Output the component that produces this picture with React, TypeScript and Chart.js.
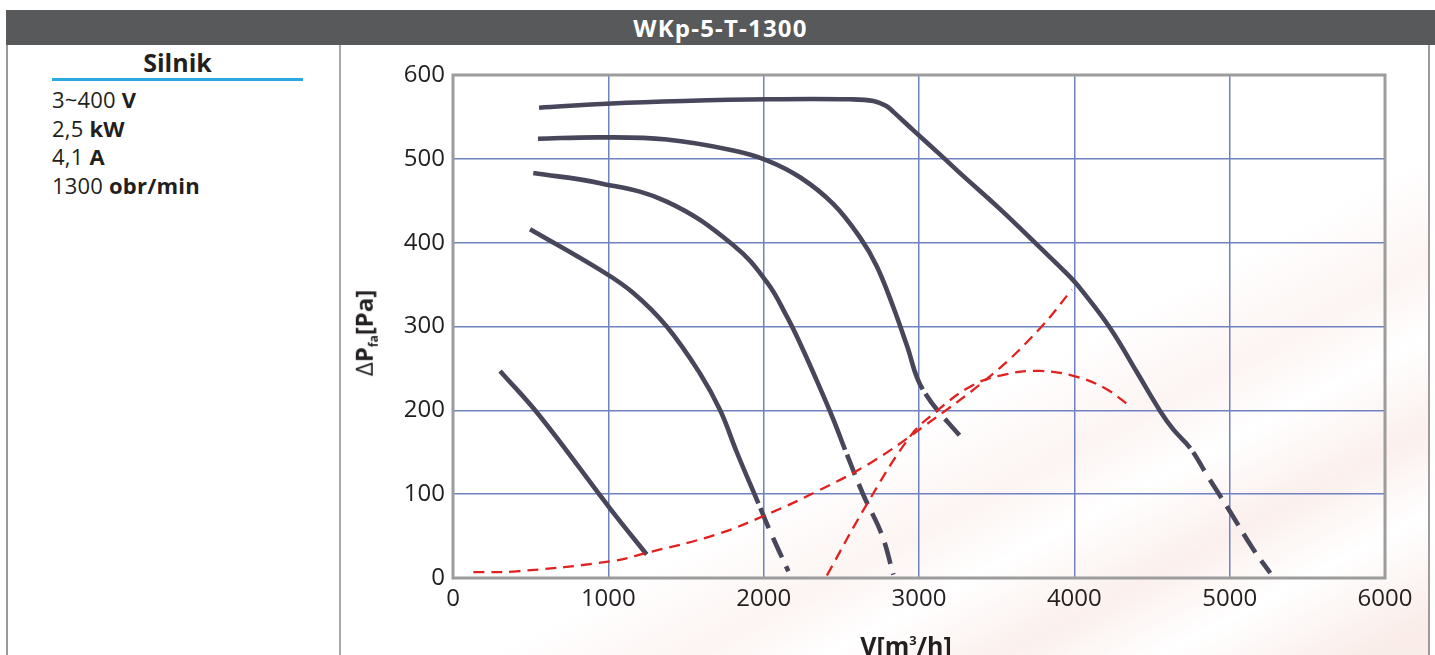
import React, { useEffect, useRef } from "react";
import { Chart, registerables } from "chart.js";

Chart.register(...registerables);

// ---- texts ----
const chartTitle = "WKp-5-T-1300";
const motorHeading = "Silnik";
const motorValues = ["3~400", "2,5", "4,1", "1300"];
const motorUnits = ["V", "kW", "A", "obr/min"];

// ---- axes ----
const xMin = 0;
const xMax = 6000;
const xStep = 1000;
const yMin = 0;
const yMax = 600;
const yStep = 100;

// ---- fan curves (V [m3/h], dPfa [Pa]); points from dashFrom onwards are dashed ----
const curve1X = [554, 1019, 1483, 2024, 2556, 2706, 2790, 2835, 2964, 3136, 3264, 3522, 3780, 3952, 4035, 4231, 4401, 4553, 4638, 4746, 4853, 5003, 5153, 5261];
const curve1Y = [561, 566, 569, 571, 571, 569, 563, 556, 534, 505, 483, 440, 394, 363, 346, 298, 246, 199, 177, 155, 123, 79, 34, 6];
const curve1DashFrom = 19;

const curve2X = [547, 947, 1376, 1805, 2024, 2234, 2449, 2621, 2728, 2835, 2921, 3024, 3297];
const curve2Y = [524, 525.6, 523, 510, 498, 478, 446, 406, 372, 323, 278, 225, 162];
const curve2DashFrom = 11;

const curve3X = [517, 947, 1376, 1805, 2024, 2149, 2234, 2342, 2449, 2524, 2642, 2760, 2835];
const curve3Y = [483, 471, 449, 397, 352, 312, 280, 235.5, 189, 153, 99, 52, 4];
const curve3DashFrom = 9;

const curve4X = [496, 947, 1161, 1376, 1590, 1720, 1827, 1966, 2041, 2159];
const curve4Y = [416, 367.5, 340, 300, 244, 200, 150, 89, 56, 8];
const curve4DashFrom = 7;

const curve5X = [303, 560, 1019, 1247];
const curve5Y = [247, 193, 81, 28];

// ---- red dashed lines ----
const redAX = [131, 410, 1019, 1247, 1698, 2024, 2340, 2685, 3024, 3479, 3780, 3984];
const redAY = [7, 8, 20, 30, 52, 76, 103, 137, 180, 244, 298, 344];

const redBX = [2407, 2661, 2943, 3100, 3346, 3560, 3780, 4016, 4200, 4359];
const redBY = [3, 87, 169, 197, 230, 243, 247, 240, 226, 205];

const DARK = "#47465b";
const RED = "#e1211f";
const FONT = "'Open Sans', sans-serif";
const TEXT = "#231f20";

function toPoints(xs: number[], ys: number[]) {
  return xs.map((x, i) => ({ x, y: ys[i] }));
}

function darkCurve(xs: number[], ys: number[], dashFrom: number) {
  return {
    data: toPoints(xs, ys),
    borderColor: DARK,
    borderWidth: 4.6,
    tension: 0.4,
    fill: false,
    pointRadius: 0,
    borderCapStyle: "butt",
    segment: {
      borderDash: (ctx: any) => (ctx.p0DataIndex >= dashFrom ? [22, 10] : undefined),
      borderDashOffset: (ctx: any) => (ctx.p0DataIndex >= dashFrom ? 27 : undefined),
    },
  };
}

function redCurve(xs: number[], ys: number[]) {
  return {
    data: toPoints(xs, ys),
    borderColor: RED,
    borderWidth: 2.3,
    borderDash: [11, 7],
    tension: 0.4,
    fill: false,
    pointRadius: 0,
  };
}

const framePlugin = {
  id: "frame",
  beforeDatasetsDraw(chart: any) {
    const { ctx, chartArea } = chart;
    const { left, top, right, bottom } = chartArea;
    ctx.save();
    ctx.strokeStyle = "#9c9c9c";
    ctx.lineWidth = 3;
    ctx.strokeRect(left, top, right - left, bottom - top);
    ctx.restore();
  },
};

function FanChart() {
  const ref = useRef<HTMLCanvasElement | null>(null);
  useEffect(() => {
    if (!ref.current) return;
    Chart.defaults.font.family = FONT;
    const tickFont = { size: 24, family: FONT };
    const chart = new Chart(ref.current, {
      type: "line",
      data: {
        datasets: [
          redCurve(redAX, redAY),
          redCurve(redBX, redBY),
          darkCurve(curve1X, curve1Y, curve1DashFrom),
          darkCurve(curve2X, curve2Y, curve2DashFrom),
          darkCurve(curve3X, curve3Y, curve3DashFrom),
          darkCurve(curve4X, curve4Y, curve4DashFrom),
          darkCurve(curve5X, curve5Y, curve5X.length),
        ] as any,
      },
      options: {
        animation: false,
        responsive: false,
        maintainAspectRatio: false,
        layout: { padding: { top: 30, right: 43, left: 0, bottom: 0 } },
        plugins: { legend: { display: false }, tooltip: { enabled: false } },
        elements: { point: { radius: 0 } },
        scales: {
          x: {
            type: "linear",
            min: xMin,
            max: xMax,
            ticks: {
              stepSize: xStep,
              font: tickFont,
              color: TEXT,
              padding: 7,
              maxRotation: 0,
              autoSkip: false,
              callback: (v: any) => String(v),
            },
            grid: { color: "#6f82c0", lineWidth: 1.5, drawTicks: false },
            border: { display: false },
            afterFit: (s: any) => {
              s.height = 77;
            },
          },
          y: {
            type: "linear",
            min: yMin,
            max: yMax,
            ticks: {
              stepSize: yStep,
              font: tickFont,
              color: TEXT,
              padding: 8,
              autoSkip: false,
              callback: (v: any) => String(v),
            },
            grid: { color: "#6f82c0", lineWidth: 1.5, drawTicks: false },
            border: { display: false },
            afterFit: (s: any) => {
              s.width = 112;
            },
          },
        },
      } as any,
      plugins: [framePlugin],
    });
    return () => chart.destroy();
  }, []);
  return <canvas ref={ref} width={1087} height={610} style={{ position: "absolute", left: 341, top: 45, width: 1087, height: 610 }} />;
}

export default function App() {
  return (
    <div
      style={{
        position: "absolute",
        left: 0,
        top: 0,
        width: 1435,
        height: 655,
        overflow: "hidden",
        background: "#ffffff",
        fontFamily: FONT,
        color: TEXT,
      }}
    >
      {/* soft background streaks */}
      <div
        style={{
          position: "absolute",
          left: 341,
          top: 45,
          width: 1088,
          height: 610,
          background:
            "linear-gradient(152deg, rgba(255,255,255,0) 58%, rgba(244,214,205,0.26) 67%, rgba(255,255,255,0.08) 73%, rgba(242,208,198,0.32) 81%, rgba(255,255,255,0.12) 88%, rgba(240,205,195,0.36) 97%)",
        }}
      />
      {/* header */}
      <div
        style={{
          position: "absolute",
          left: 6,
          top: 10,
          width: 1429,
          height: 35,
          background: "#58595b",
          color: "#ffffff",
          fontWeight: 700,
          fontSize: 24,
          letterSpacing: 1.2,
          lineHeight: "36px",
          textAlign: "center",
        }}
      >
        {chartTitle}
      </div>
      {/* borders */}
      <div style={{ position: "absolute", left: 6, top: 45, width: 2, height: 610, background: "#9a9a9a" }} />
      <div style={{ position: "absolute", left: 339, top: 45, width: 2, height: 610, background: "#a8a8a8" }} />
      <div style={{ position: "absolute", left: 1428, top: 45, width: 2, height: 610, background: "#9a9a9a" }} />
      {/* motor panel */}
      <div
        style={{
          position: "absolute",
          left: 52,
          top: 47,
          width: 251,
          textAlign: "center",
          fontWeight: 700,
          fontSize: 25,
          lineHeight: "30px",
        }}
      >
        {motorHeading}
      </div>
      <div style={{ position: "absolute", left: 52, top: 78, width: 251, height: 3, background: "#2aaae0" }} />
      {motorValues.map((v, i) => (
        <div
          key={i}
          style={{
            position: "absolute",
            left: 52,
            top: 85 + i * 28.5,
            fontSize: 22,
            letterSpacing: 0.2,
            lineHeight: "28px",
            whiteSpace: "nowrap",
          }}
        >
          {v} <b>{motorUnits[i]}</b>
        </div>
      ))}
      <FanChart />
      {/* axis titles */}
      <div
        style={{
          position: "absolute",
          left: 369,
          top: 333,
          transform: "translate(-50%, -50%) rotate(-90deg)",
          whiteSpace: "nowrap",
          fontWeight: 700,
          fontSize: 24,
          lineHeight: "28px",
        }}
      >
        <span style={{ fontWeight: 400 }}>Δ</span>P
        <span style={{ fontSize: 12, verticalAlign: "-0.45em" }}>fa</span>[Pa]
      </div>
      <div
        style={{
          position: "absolute",
          left: 906,
          top: 623,
          transform: "translateX(-50%)",
          whiteSpace: "nowrap",
          fontWeight: 700,
          fontSize: 25,
          lineHeight: "34px",
        }}
      >
        V[m<span style={{ fontSize: 13, verticalAlign: "0.75em" }}>3</span>/h]
      </div>
    </div>
  );
}
